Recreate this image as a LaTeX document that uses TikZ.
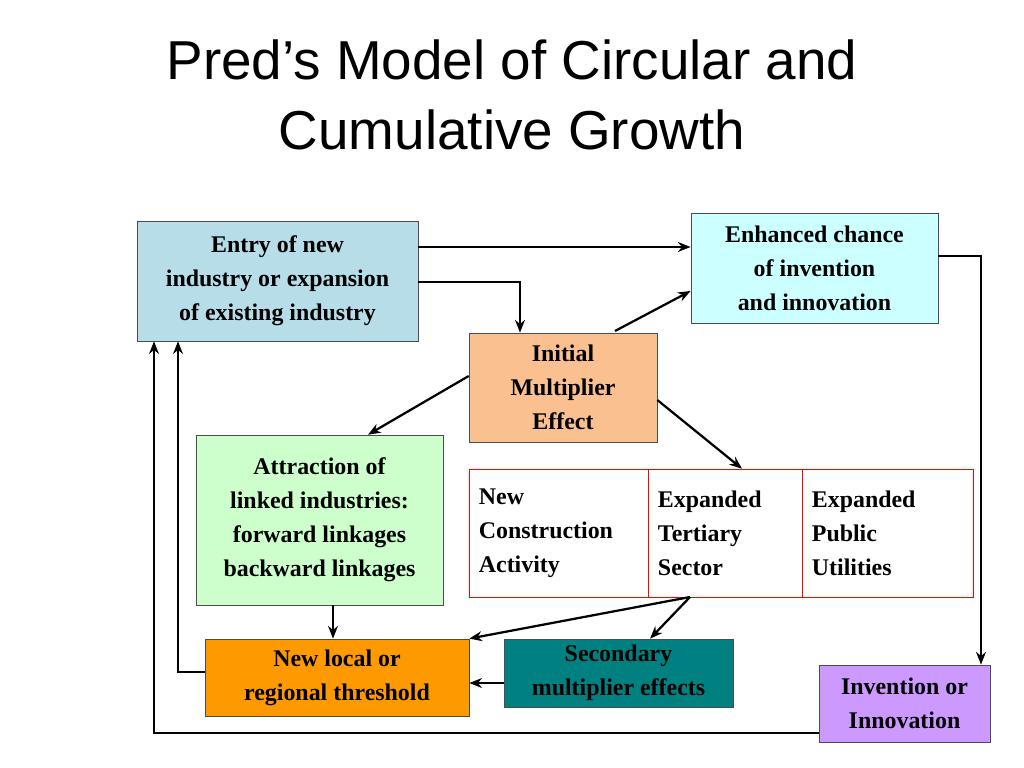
\documentclass[tikz,border=0pt]{standalone}
\usepackage{fontspec}
\setmainfont{Liberation Serif}
\newfontfamily\titlefont{Liberation Sans}
\usetikzlibrary{arrows.meta}
\definecolor{entryblue}{HTML}{B7DDE8}
\definecolor{chancecyan}{HTML}{CCFFFF}
\definecolor{multorange}{HTML}{FAC090}
\definecolor{linkgreen}{HTML}{CCFFCC}
\definecolor{threshorange}{HTML}{FF9900}
\definecolor{secteal}{HTML}{008080}
\definecolor{invlilac}{HTML}{CC99FF}
\tikzset{
  box/.style={draw=black!70, thin, align=center, inner sep=2pt,
    font=\fontsize{17}{24.2}\selectfont\bfseries},
  cell/.style={draw=red, thin, align=left, inner xsep=0.25cm,
    minimum height=3.2cm, font=\fontsize{17}{24.2}\selectfont\bfseries},
  flow/.style={-{Stealth[length=9pt,width=7pt]}, line width=1.6pt}
}
\begin{document}
\begin{tikzpicture}[x=0.025cm, y=-0.025cm]
  \useasboundingbox (0,0) rectangle (1024,768);
  \node[font=\titlefont\fontsize{39}{49.6}\selectfont, align=center] (title) at (512,95)
    {Pred’s Model of Circular and\\Cumulative Growth};

  \node[box, fill=entryblue, minimum width=7.03cm, minimum height=3cm] (entry) at (277.5,281)
    {Entry of new\\industry or expansion\\of existing industry};
  \node[box, fill=chancecyan, minimum width=6.18cm, minimum height=2.75cm] (chance) at (814.5,268)
    {Enhanced chance\\of invention\\and innovation};
  \node[box, fill=multorange, minimum width=4.7cm, minimum height=2.73cm] (mult) at (563,387.5)
    {Initial\\Multiplier\\Effect};
  \node[box, fill=linkgreen, minimum width=6.18cm, minimum height=4.25cm] (links) at (319.5,520)
    {Attraction of\\linked industries:\\forward linkages\\backward linkages};
  \node[cell, text width=3.98cm] (constr) at (558.5,533) {New\\Construction\\Activity};
  \node[cell, text width=3.35cm] (tert) at (725,533) {Expanded\\Tertiary\\Sector};
  \node[cell, text width=3.78cm] (util) at (887.5,533) {Expanded\\Public\\Utilities};
  \node[box, fill=threshorange, minimum width=6.6cm, minimum height=1.93cm] (thresh) at (337,677.5)
    {New local or\\regional threshold};
  \node[box, fill=secteal, minimum width=5.73cm, minimum height=1.7cm] (second) at (618.5,673)
    {Secondary\\multiplier effects};
  \node[box, fill=invlilac, minimum width=4.28cm, minimum height=1.93cm] (invent) at (904.5,703.5)
    {Invention or\\Innovation};

  \draw[flow] (entry.east |- 0,247) -- (chance.west |- 0,247);
  \draw[flow] (entry.east |- 0,282) -| (mult.north -| 520,0);
  \draw[flow] (615,331) -- (chance.south west |- 0,291);
  \draw[flow] (chance.east |- 0,256) -| (invent.north -| 981,0);
  \draw[flow] (mult.west |- 0,376) -- (links.north -| 368,0);
  \draw[flow] (mult.east |- 0,400) -- (tert.north -| 742,0);
  \draw[flow] (links.south -| 333,0) -- (thresh.north -| 333,0);
  \draw[flow] (690,597) -- (thresh.north east);
  \draw[flow] (690,597) -- (second.north -| 650,0);
  \draw[flow] (second.west |- 0,683) -- (thresh.east |- 0,683);
  \draw[flow] (thresh.west |- 0,672) -| (entry.south -| 178,0);
  \draw[flow] (invent.west |- 0,733) -| (entry.south -| 154,0);
\end{tikzpicture}
\end{document}
